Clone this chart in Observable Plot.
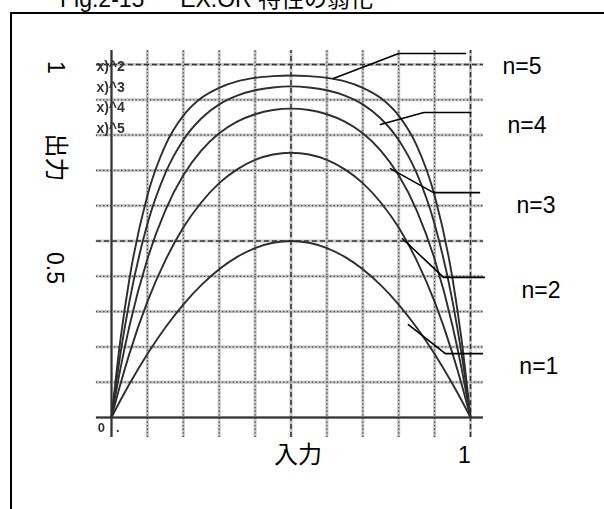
<!DOCTYPE html>
<html>
<head>
<meta charset="utf-8">
<script src="https://cdn.jsdelivr.net/npm/d3@7"></script>
<script src="https://cdn.jsdelivr.net/npm/@observablehq/plot@0.6"></script>
<style>
  html, body { margin: 0; padding: 0; background: #fff; }
  #page { position: relative; width: 604px; height: 509px; overflow: hidden; background: #fff; }
  #title {
    position: absolute; left: 60px; top: -12.5px;
    font: 23px/23px "Liberation Sans", Arial, "Noto Sans CJK JP", sans-serif;
    white-space: pre; color: #000;
  }
  #frame {
    position: absolute; left: 10px; top: 12px; width: 700px; height: 600px;
    border: 2px solid #000; pointer-events: none;
  }
  #chart { position: absolute; left: 0; top: 0; }
</style>
</head>
<body>
<div id="page">
  <div id="chart"></div>
  <div id="title">Fig.2-15　  EX.OR 特性の弱化</div>
  <div id="frame"></div>
</div>
<script>
// Input samples (horizontal axis, 0 … 1)
const xs = [0, 0.025, 0.05, 0.1, 0.15, 0.2, 0.25, 0.3, 0.35, 0.4, 0.45, 0.5,
            0.55, 0.6, 0.65, 0.7, 0.75, 0.8, 0.85, 0.9, 0.95, 0.975, 1];

// Output for each stage count n
const n1 = [0, 0.049, 0.095, 0.18, 0.255, 0.32, 0.375, 0.42, 0.455, 0.48, 0.495, 0.5,
            0.495, 0.48, 0.455, 0.42, 0.375, 0.32, 0.255, 0.18, 0.095, 0.049, 0];
const n2 = [0, 0.095, 0.181, 0.328, 0.445, 0.538, 0.609, 0.664, 0.703, 0.73, 0.745, 0.75,
            0.745, 0.73, 0.703, 0.664, 0.609, 0.538, 0.445, 0.328, 0.181, 0.095, 0];
const n3 = [0, 0.139, 0.259, 0.449, 0.587, 0.686, 0.756, 0.805, 0.838, 0.859, 0.871, 0.875,
            0.871, 0.859, 0.838, 0.805, 0.756, 0.686, 0.587, 0.449, 0.259, 0.139, 0];
const n4 = [0, 0.181, 0.329, 0.548, 0.692, 0.786, 0.847, 0.887, 0.912, 0.927, 0.935, 0.938,
            0.935, 0.927, 0.912, 0.887, 0.847, 0.786, 0.692, 0.548, 0.329, 0.181, 0];
const n5 = [0, 0.221, 0.393, 0.629, 0.771, 0.855, 0.905, 0.934, 0.952, 0.962, 0.967, 0.969,
            0.967, 0.962, 0.952, 0.934, 0.905, 0.855, 0.771, 0.629, 0.393, 0.221, 0];

const seriesNames = ["n=1", "n=2", "n=3", "n=4", "n=5"];
const seriesValues = [n1, n2, n3, n4, n5];

// Graph-paper divisions
const gridTicks = [0, 0.1, 0.2, 0.3, 0.4, 0.5, 0.6, 0.7, 0.8, 0.9, 1];
const dashedTicks = [0.5, 1];
const powerLabels = ["x)^2", "x)^3", "x)^4", "x)^5"];

// Callouts: where each leader touches its curve, its elbow, and the label row
const calloutNames = ["n=5", "n=4", "n=3", "n=2", "n=1"];
const calloutStartX = [0.618, 0.749, 0.777, 0.81, 0.827];
const calloutStartY = [0.96, 0.83, 0.705, 0.507, 0.263];
const calloutElbowX = [0.80, 0.87, 0.897, 0.925, 0.93];
const calloutEndX = [0.986, 1.0, 1.025, 1.039, 1.033];
const calloutRowY = [1.031, 0.864, 0.637, 0.397, 0.181];

const rows = seriesNames.flatMap((n, k) => xs.map((x, i) => ({n, x, y: seriesValues[k][i]})));
const minorTicks = gridTicks.filter(t => t !== 0 && !dashedTicks.includes(t));
const leaders = calloutNames.flatMap((n, i) => [
  {n, x: calloutStartX[i], y: calloutStartY[i]},
  {n, x: calloutElbowX[i], y: calloutRowY[i]},
  {n, x: calloutEndX[i], y: calloutRowY[i]}
]);
const calloutLabels = calloutNames.map((n, i) => ({n, x: calloutEndX[i], y: calloutRowY[i]}));

const sans = "'Liberation Sans', Arial, 'Noto Sans CJK JP', sans-serif";
const gx1 = -0.042, gx2 = 1.036, gy1 = -0.057, gy2 = 1.04;

const chart = Plot.plot({
  width: 604,
  height: 509,
  marginLeft: 111,
  marginRight: 134,
  marginTop: 64,
  marginBottom: 92,
  x: {domain: [0, 1], axis: null},
  y: {domain: [0, 1], axis: null},
  style: {fontFamily: sans, background: "transparent", overflow: "visible"},
  marks: [
    // soft grey bands of the graph paper
    Plot.ruleY(gridTicks, {x1: gx1, x2: gx2, stroke: "#c4c4c4", strokeWidth: 3, ariaDescription: "scan"}),
    Plot.ruleX(gridTicks, {y1: gy1, y2: gy2, stroke: "#c4c4c4", strokeWidth: 3, ariaDescription: "scan"}),
    // dotted minor divisions
    Plot.ruleY(minorTicks, {x1: gx1, x2: gx2, stroke: "#444", strokeWidth: 1.2, strokeDasharray: "1.3,2.3", ariaDescription: "scan"}),
    Plot.ruleX(minorTicks, {y1: gy1, y2: gy2, stroke: "#444", strokeWidth: 1.2, strokeDasharray: "1.3,2.3", ariaDescription: "scan"}),
    // dashed half and full-scale lines
    Plot.ruleY(dashedTicks, {x1: gx1, x2: gx2, stroke: "#333", strokeWidth: 1.5, strokeDasharray: "5,3", ariaDescription: "scan"}),
    Plot.ruleX(dashedTicks, {y1: gy1, y2: gy2, stroke: "#333", strokeWidth: 1.5, strokeDasharray: "5,3", ariaDescription: "scan"}),
    // axes through the origin
    Plot.ruleY([0], {x1: gx1, x2: gx2, stroke: "#333", strokeWidth: 2, ariaDescription: "scan"}),
    Plot.ruleX([0], {y1: gy1, y2: gy2, stroke: "#333", strokeWidth: 2, ariaDescription: "scan"}),
    // characteristic curves
    Plot.line(rows, {x: "x", y: "y", z: "n", stroke: "#2e2e2e", strokeWidth: 1.9, curve: "monotone-x", ariaDescription: "scan"}),
    // small printed labels on the paper
    Plot.text(powerLabels, {
      x: gx1, y: (d, i) => 0.994 - i * 0.058, text: d => d,
      textAnchor: "start", fontSize: 14, fontWeight: "bold", fill: "#333", ariaDescription: "scan"
    }),
    Plot.text(["0   ."], {
      x: gx1 + 0.004, y: -0.03, text: d => d,
      textAnchor: "start", fontSize: 13, fontWeight: "bold", fill: "#333", ariaDescription: "scan"
    }),
    // leader lines and series names
    Plot.line(leaders, {x: "x", y: "y", z: "n", stroke: "#000", strokeWidth: 1.6}),
    Plot.text(calloutLabels, {x: "x", y: "y", text: "n", dx: 37, dy: 13, textAnchor: "start", fontSize: 23, fill: "#000"}),
    // axis texts
    Plot.text(["1"], {x: 0, y: 1, text: d => d, dx: -56, dy: 3, rotate: 90, fontSize: 23, fill: "#000"}),
    Plot.text(["0.5"], {x: 0, y: 0.5, text: d => d, dx: -57, dy: 27, rotate: 90, fontSize: 23, fill: "#000"}),
    Plot.text(["出力"], {frameAnchor: "top-left", text: d => d, dx: -56, dy: 93, rotate: 90,
      textAnchor: "middle", lineAnchor: "middle", fontSize: 24, fill: "#000"}),
    Plot.text(["入力"], {frameAnchor: "bottom", text: d => d, dx: 7, dy: 38,
      textAnchor: "middle", lineAnchor: "middle", fontSize: 24, fill: "#000"}),
    Plot.text(["1"], {x: 1, y: 0, text: d => d, dx: -6, dy: 38, fontSize: 23, fill: "#000"})
  ]
});

d3.select(chart).selectAll('g[aria-description="scan"]').style("filter", "blur(0.45px)");
document.getElementById("chart").appendChild(chart);
</script>
</body>
</html>
